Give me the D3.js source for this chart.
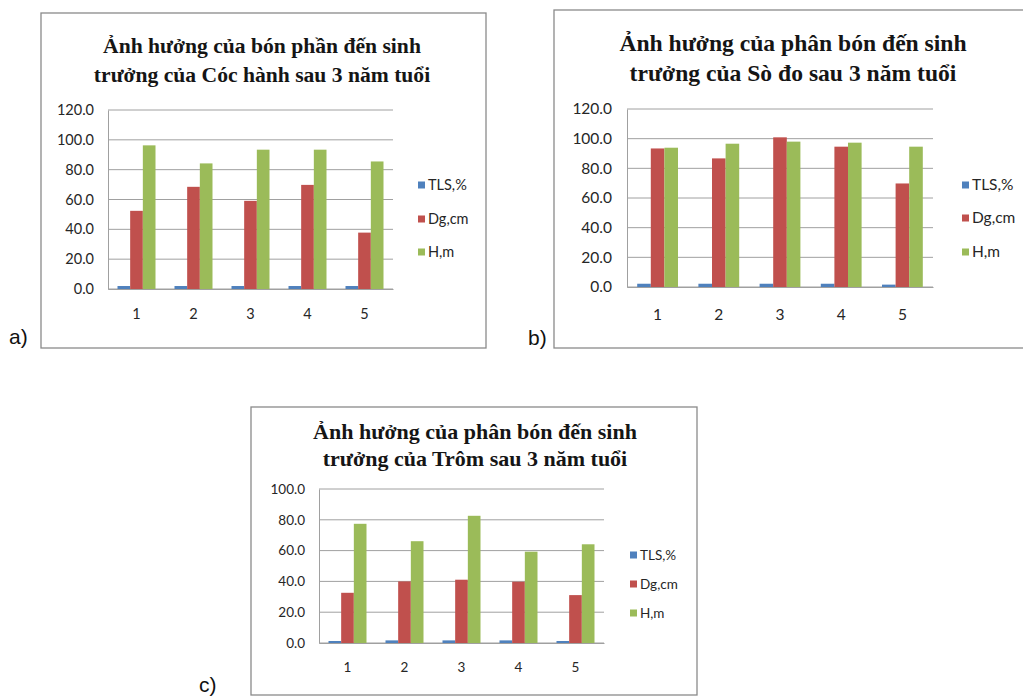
<!DOCTYPE html>
<html><head><meta charset="utf-8">
<script src="https://cdn.jsdelivr.net/npm/d3@7"></script>
<style>body{margin:0;background:#fff;} svg{display:block;}</style>
</head><body>
<svg id="c" width="1023" height="698"></svg>
<script>
// ---- data ----
const categories = ["1","2","3","4","5"];
const seriesNames = ["TLS,%","Dg,cm","H,m"];
const seriesColors = ["#4F81BD","#C0504D","#9BBB59"];

const titleA = ["Ảnh hưởng của bón phần đến sinh","trưởng của Cóc hành sau 3 năm tuổi"];
const tlsA = [2.0, 2.0, 2.0, 2.0, 2.0];
const dgA  = [52.4, 68.5, 59.1, 69.8, 37.8];
const hA   = [96.3, 84.2, 93.4, 93.4, 85.5];
const ticksA = [0,20,40,60,80,100,120];

const titleB = ["Ảnh hưởng của phân bón đến sinh","trưởng của Sò đo sau 3 năm tuổi"];
const tlsB = [2.2, 2.2, 2.2, 2.2, 1.6];
const dgB  = [93.4, 86.7, 100.9, 94.6, 69.8];
const hB   = [93.9, 96.6, 98.0, 97.3, 94.6];
const ticksB = [0,20,40,60,80,100,120];

const titleC = ["Ảnh hưởng của phân bón đến sinh","trưởng của Trôm sau 3 năm tuổi"];
const tlsC = [1.3, 1.7, 1.7, 1.7, 1.3];
const dgC  = [32.6, 40.0, 41.1, 39.8, 31.1];
const hC   = [77.4, 66.1, 82.6, 59.3, 64.1];
const ticksC = [0,20,40,60,80,100];

const panelLabels = ["a)","b)","c)"];

// ---- drawing ----
const svg = d3.select("#c");

function drawChart(o){
  const g = svg.append("g");
  // frame
  g.append("rect").attr("x",o.frame[0]).attr("y",o.frame[1]).attr("width",o.frame[2]).attr("height",o.frame[3])
    .attr("fill","#fff").attr("stroke","#8a8a8a").attr("stroke-width",1.3);
  // title
  o.title.forEach((t,i)=>{
    g.append("text").attr("x",o.titleX).attr("y",o.titleY[i]).attr("text-anchor","middle")
      .attr("font-family","'Liberation Serif','Times New Roman',serif").attr("font-weight","bold")
      .attr("font-size",o.titleSize).attr("fill","#151515").text(t);
  });
  const y = d3.scaleLinear().domain([0,o.ticks[o.ticks.length-1]]).range([o.plot.b,o.plot.t]);
  const x0 = d3.scaleBand().domain(categories).range([o.plot.l,o.plot.r]).paddingInner(1/3).paddingOuter(1/6);
  const x1 = d3.scaleBand().domain(seriesNames).range([0,x0.bandwidth()]);
  // gridlines
  g.append("g").selectAll("line").data(o.ticks).join("line")
    .attr("x1",o.plot.l).attr("x2",o.plot.r).attr("y1",d=>y(d)).attr("y2",d=>y(d))
    .attr("stroke","#a0a0a0").attr("stroke-width",1);
  // y axis
  const ya = d3.axisLeft(y).tickValues(o.ticks).tickFormat(d3.format(".1f")).tickSize(0).tickPadding(o.tickPad);
  const yg = g.append("g").attr("transform",`translate(${o.plot.l},0)`).call(ya);
  yg.select(".domain").attr("stroke","#a0a0a0");
  yg.selectAll("text").attr("font-family","Lato,'Open Sans',sans-serif").attr("font-size",o.fs).attr("fill","#262626");
  // x axis
  const xa = d3.axisBottom(x0).tickSize(0).tickPadding(o.xPad);
  const xg = g.append("g").attr("transform",`translate(0,${o.plot.b})`).call(xa);
  xg.select(".domain").attr("stroke","#a0a0a0");
  xg.selectAll("text").attr("font-family","Lato,'Open Sans',sans-serif").attr("font-size",o.fs).attr("fill","#262626");
  // bars
  const rows = categories.map((c,i)=>({c, vals: o.series.map((s,j)=>({name:seriesNames[j], v:s[i], col:seriesColors[j]}))}));
  g.append("g").selectAll("g").data(rows).join("g")
    .attr("transform",d=>`translate(${x0(d.c)},0)`)
    .selectAll("rect").data(d=>d.vals).join("rect")
    .attr("x",d=>x1(d.name)).attr("width",x1.bandwidth())
    .attr("y",d=>y(d.v)).attr("height",d=>y(0)-y(d.v)).attr("fill",d=>d.col);
  // legend
  seriesNames.forEach((n,i)=>{
    g.append("rect").attr("x",o.leg.x).attr("y",o.leg.y[i]-3.5).attr("width",7).attr("height",7).attr("fill",seriesColors[i]);
    g.append("text").attr("x",o.leg.x+10).attr("y",o.leg.y[i]).attr("dy","0.35em")
      .attr("font-family","Lato,'Open Sans',sans-serif").attr("font-size",o.fs).attr("fill","#262626").text(n);
  });
  // panel label
  svg.append("text").attr("x",o.lab[0]).attr("y",o.lab[1])
    .attr("font-family","'Liberation Sans',Arial,sans-serif").attr("font-size",21).attr("fill","#111").text(o.labText);
}

drawChart({frame:[41,13,445,335], title:titleA, titleX:262, titleY:[53,82], titleSize:21.6,
  plot:{l:108,r:393,t:110,b:289}, ticks:ticksA, series:[tlsA,dgA,hA], fs:14.5, tickPad:14, xPad:20,
  leg:{x:418,y:[185,219,252]}, lab:[9,344], labText:panelLabels[0]});
drawChart({frame:[554,10,480,338], title:titleB, titleX:793, titleY:[51,81], titleSize:23.6,
  plot:{l:627,r:933,t:109,b:287}, ticks:ticksB, series:[tlsB,dgB,hB], fs:15.5, tickPad:15, xPad:22,
  leg:{x:962,y:[185,218,252]}, lab:[528,345], labText:panelLabels[1]});
drawChart({frame:[251,407,446,288], title:titleC, titleX:475, titleY:[439,466], titleSize:22,
  plot:{l:319,r:604,t:489,b:643}, ticks:ticksC, series:[tlsC,dgC,hC], fs:13.5, tickPad:14, xPad:19,
  leg:{x:630,y:[555,584,613]}, lab:[199,692], labText:panelLabels[2]});
</script>
</body></html>
